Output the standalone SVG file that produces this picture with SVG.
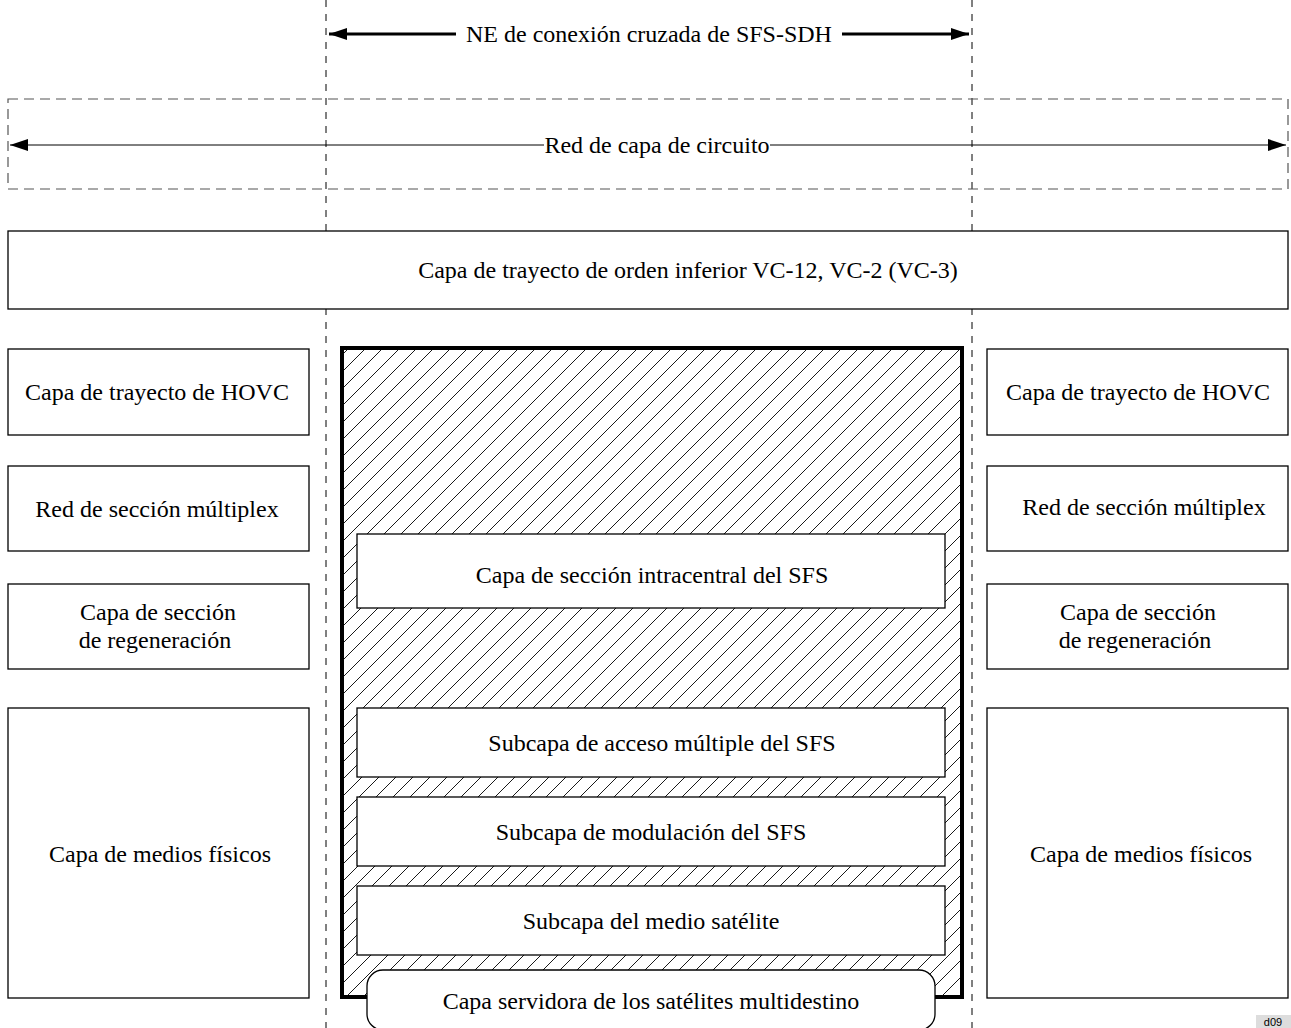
<svg xmlns="http://www.w3.org/2000/svg" width="1291" height="1028" viewBox="0 0 1291 1028">
<defs>
<style>
text{font-family:"Liberation Serif","Times New Roman",serif;font-size:24px;fill:#000;text-anchor:middle}
.box{fill:#fff;stroke:#000;stroke-width:1.3}
.guide{stroke:#000;stroke-width:1;stroke-dasharray:7,7;fill:none}
</style>
<pattern id="hatch" patternUnits="userSpaceOnUse" width="17" height="17">
<path d="M-1,18 L18,-1 M-9,9 L9,-9 M8,26 L26,8" stroke="#000" stroke-width="0.9"/>
</pattern>
<marker id="ahThick" markerWidth="6" markerHeight="4" refX="6" refY="2" orient="auto-start-reverse" markerUnits="strokeWidth"><path d="M0,0 L6,2 L0,4 Z" fill="#000"/></marker>
<marker id="ahThin" markerWidth="18" markerHeight="12" refX="18" refY="6" orient="auto-start-reverse" markerUnits="userSpaceOnUse"><path d="M0,0 L18,6 L0,12 Z" fill="#000"/></marker>
</defs>
<rect width="1291" height="1028" fill="#fff"/>

<g id="guides">
<line class="guide" x1="326" y1="0" x2="326" y2="1028"/>
<line class="guide" x1="972" y1="0" x2="972" y2="1028"/>
</g>

<g id="circuit-layer">
<rect x="8" y="99" width="1280" height="90" fill="none" stroke="#555" stroke-width="1.2" stroke-dasharray="10,6"/>
</g>

<g id="connectors">
<line x1="456" y1="34" x2="329" y2="34" stroke="#000" stroke-width="3" marker-end="url(#ahThick)"/>
<line x1="842" y1="34" x2="969" y2="34" stroke="#000" stroke-width="3" marker-end="url(#ahThick)"/>
<line x1="544" y1="145" x2="10" y2="145" stroke="#000" stroke-width="1" marker-end="url(#ahThin)"/>
<line x1="770" y1="145" x2="1286" y2="145" stroke="#000" stroke-width="1" marker-end="url(#ahThin)"/>
</g>
<text x="649" y="42">NE de conexión cruzada de SFS-SDH</text>
<text x="657" y="153">Red de capa de circuito</text>

<g id="lower-order-path">
<rect class="box" x="8" y="231" width="1280" height="78"/>
<text x="688" y="278">Capa de trayecto de orden inferior VC-12, VC-2 (VC-3)</text>
</g>

<g id="left-hovc"><rect class="box" x="8" y="349" width="301" height="86"/><text x="157" y="400">Capa de trayecto de HOVC</text></g>
<g id="left-ms"><rect class="box" x="8" y="466" width="301" height="85"/><text x="157" y="517">Red de sección múltiplex</text></g>
<g id="left-rs"><rect class="box" x="8" y="584" width="301" height="85"/><text x="158" y="620">Capa de sección</text><text x="155" y="648">de regeneración</text></g>
<g id="left-phys"><rect class="box" x="8" y="708" width="301" height="290"/><text x="160" y="862">Capa de medios físicos</text></g>

<g id="right-hovc"><rect class="box" x="987" y="349" width="301" height="86"/><text x="1138" y="400">Capa de trayecto de HOVC</text></g>
<g id="right-ms"><rect class="box" x="987" y="466" width="301" height="85"/><text x="1144" y="515">Red de sección múltiplex</text></g>
<g id="right-rs"><rect class="box" x="987" y="584" width="301" height="85"/><text x="1138" y="620">Capa de sección</text><text x="1135" y="648">de regeneración</text></g>
<g id="right-phys"><rect class="box" x="987" y="708" width="301" height="290"/><text x="1141" y="862">Capa de medios físicos</text></g>

<g id="sfs-ne">
<rect x="342" y="348" width="620" height="649" fill="url(#hatch)" stroke="#000" stroke-width="4"/>
</g>
<g id="sfs-intra"><rect class="box" x="357" y="534" width="588" height="74"/><text x="652" y="583">Capa de sección intracentral del SFS</text></g>
<g id="sfs-ma"><rect class="box" x="357" y="708" width="588" height="69"/><text x="662" y="751">Subcapa de acceso múltiple del SFS</text></g>
<g id="sfs-mod"><rect class="box" x="357" y="797" width="588" height="69"/><text x="651" y="840">Subcapa de modulación del SFS</text></g>
<g id="sfs-sat"><rect class="box" x="357" y="886" width="588" height="69"/><text x="651" y="929">Subcapa del medio satélite</text></g>
<g id="multicast"><rect class="box" x="367" y="970" width="568" height="60" rx="16" ry="16"/><text x="651" y="1009">Capa servidora de los satélites multidestino</text></g>

<g id="tag">
<rect x="1256" y="1015" width="36" height="14" fill="#ddd"/>
<text x="1273" y="1026" style="font-size:11px;font-family:'Liberation Sans',Arial,sans-serif">d09</text>
</g>
</svg>
